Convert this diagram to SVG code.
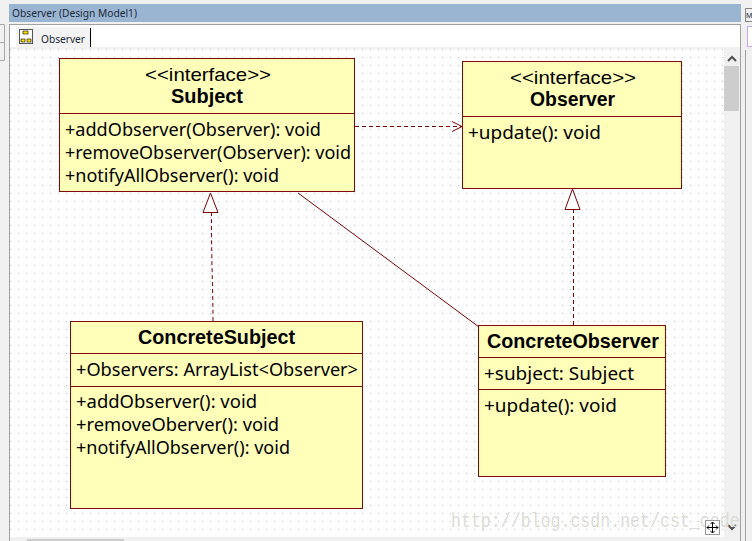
<svg xmlns="http://www.w3.org/2000/svg" width="752" height="541" viewBox="0 0 752 541">
<defs>
<pattern id="dots" width="8" height="8" patternUnits="userSpaceOnUse" x="2" y="1"><rect width="1" height="1" fill="#bdbdbd"/></pattern>
<marker id="open" markerUnits="userSpaceOnUse" markerWidth="12" markerHeight="12" refX="11" refY="6" orient="auto"><path d="M1 1 L11 6 L1 11" fill="none" stroke="#7b0000" stroke-width="1"/></marker>
</defs>
<style>
text{font-family:"Noto Sans","Open Sans",sans-serif;fill:#000;font-size:18.300px}
.box{fill:#ffffb9;stroke:#820a0a;stroke-width:1}
.div{stroke:#820a0a;stroke-width:1}
.c{stroke:#7b0000;stroke-width:1;fill:none}
.d{stroke-dasharray:4 3}
.t{font-family:"Liberation Sans",Arial,sans-serif;font-size:18.500px}
.b{font-family:"Liberation Sans",Arial,sans-serif;font-weight:700;font-size:19.500px}
.tri{fill:#fff;stroke:#7b0000;stroke-width:1}
.ui{font-size:10.500px;fill:#1c2a3a}
</style>
<rect width="752" height="541" fill="#f0f0f0"/>
<g id="chrome">
<rect x="9" y="4" width="732" height="18" fill="#9ab5d2"/>
<text class="ui" x="12" y="17" textLength="125" lengthAdjust="spacingAndGlyphs">Observer (Design Model1)</text>
<rect x="9.500" y="24.500" width="731" height="530" fill="#fff" stroke="#a0a0a0"/>
<rect x="11" y="25" width="729" height="22" fill="#fff"/>
<rect x="10" y="47" width="730" height="2" fill="#f0f0f0"/>
<rect x="16" y="27" width="74" height="20" fill="#f3f3f3"/>
<path d="M90.500 28V47" stroke="#000"/>
<rect x="19.500" y="29.500" width="13" height="14" fill="#fff" stroke="#555"/>
<rect x="23" y="31" width="5" height="3" fill="#ffe000" stroke="#000" stroke-width=".6"/>
<rect x="21" y="39" width="4" height="3" fill="#ffe000" stroke="#000" stroke-width=".6"/>
<rect x="27" y="39" width="4" height="3" fill="#ffe000" stroke="#000" stroke-width=".6"/>
<text class="ui" x="41" y="43" textLength="44" lengthAdjust="spacingAndGlyphs">Observer</text>
<rect x="10" y="49" width="714" height="488" fill="#fff"/>
<rect x="10" y="49" width="714" height="488" fill="url(#dots)"/>
<rect x="724" y="49" width="16" height="488" fill="#f0f0f0"/>
<rect x="724" y="66" width="15" height="45" fill="#cdcdcd"/>
<path d="M728 61l4-4 4 4M728 525l4 4 4-4" fill="none" stroke="#505050" stroke-width="2"/>
<rect x="10" y="537" width="730" height="4" fill="#f0f0f0"/>
<rect x="27" y="539" width="97" height="2" fill="#cdcdcd"/>
<rect x="745.500" y="8.500" width="8" height="13" fill="#f0f0f0" stroke="#888"/>
<text class="ui" x="746" y="18" style="font-size:7px">M</text>
<rect x="747.500" y="26.500" width="8" height="20" fill="#fff" stroke="#c9a6f0"/>
<path d="M745.500 50V541" stroke="#a0a0a0"/>
<path d="M0 24.500H4.500V42.500H0M0 42.500H4.500V60.500H0" fill="none" stroke="#a8a8a8"/>
</g>
<g id="connectors">
<path class="c d" d="M355 126.500H462" marker-end="url(#open)"/>
<path class="c d" d="M213 321C213 290 211.500 270 211.500 213"/>
<path class="tri" d="M210.500 193L203 212.500H218Z"/>
<path class="c d" d="M573.500 325V209"/>
<path class="tri" d="M572.500 189L565 209.500H580Z"/>
<path class="c" d="M298 193L479 327"/>
</g>
<g id="Subject">
<rect class="box" x="59.500" y="58.500" width="295" height="133"/>
<path class="div" d="M60 113.500H354"/>
<text class="t" x="145" y="81" textLength="126" lengthAdjust="spacingAndGlyphs">&lt;&lt;interface&gt;&gt;</text>
<text class="b" x="171" y="103" textLength="72" lengthAdjust="spacingAndGlyphs">Subject</text>
<text x="65" y="136" textLength="256" lengthAdjust="spacingAndGlyphs">+addObserver(Observer): void</text>
<text x="65" y="159" textLength="286" lengthAdjust="spacingAndGlyphs">+removeObserver(Observer): void</text>
<text x="65" y="182" textLength="214" lengthAdjust="spacingAndGlyphs">+notifyAllObserver(): void</text>
</g>
<g id="Observer">
<rect class="box" x="462.500" y="61.500" width="219" height="127"/>
<path class="div" d="M463 116.500H681"/>
<text class="t" x="510" y="84" textLength="126" lengthAdjust="spacingAndGlyphs">&lt;&lt;interface&gt;&gt;</text>
<text class="b" x="530" y="106" textLength="85" lengthAdjust="spacingAndGlyphs">Observer</text>
<text x="468" y="139" textLength="133" lengthAdjust="spacingAndGlyphs">+update(): void</text>
</g>
<g id="ConcreteSubject">
<rect class="box" x="70.500" y="321.500" width="292" height="187"/>
<path class="div" d="M71 353.500H362M71 386.500H362"/>
<text class="b" x="138" y="344" textLength="157" lengthAdjust="spacingAndGlyphs">ConcreteSubject</text>
<text x="76" y="376" textLength="282" lengthAdjust="spacingAndGlyphs">+Observers: ArrayList&lt;Observer&gt;</text>
<text x="76" y="408" textLength="181" lengthAdjust="spacingAndGlyphs">+addObserver(): void</text>
<text x="76" y="431" textLength="203" lengthAdjust="spacingAndGlyphs">+removeOberver(): void</text>
<text x="76" y="454" textLength="214" lengthAdjust="spacingAndGlyphs">+notifyAllObserver(): void</text>
</g>
<g id="ConcreteObserver">
<rect class="box" x="478.500" y="325.500" width="187" height="151"/>
<path class="div" d="M479 357.500H665M479 389.500H665"/>
<text class="b" x="487" y="348" textLength="172" lengthAdjust="spacingAndGlyphs">ConcreteObserver</text>
<text x="484" y="380" textLength="150" lengthAdjust="spacingAndGlyphs">+subject: Subject</text>
<text x="484" y="412" textLength="133" lengthAdjust="spacingAndGlyphs">+update(): void</text>
</g>
<text transform="translate(451 527) scale(.83 1)" x="0" y="0" style="font-family:'Liberation Mono',monospace;font-size:20px;fill:#dcdcd6">http://blog.csdn.net/cst_code</text>
<g id="corner">
<rect x="705.500" y="520.500" width="14" height="14" fill="#fff" stroke="#999"/>
<path d="M712.500 522V533M707 527.500H718M710.500 524l2-2 2 2M710.500 531l2 2 2-2M709 525.500l-2 2 2 2M716 525.500l2 2-2 2" fill="none" stroke="#000"/>
</g>
</svg>
